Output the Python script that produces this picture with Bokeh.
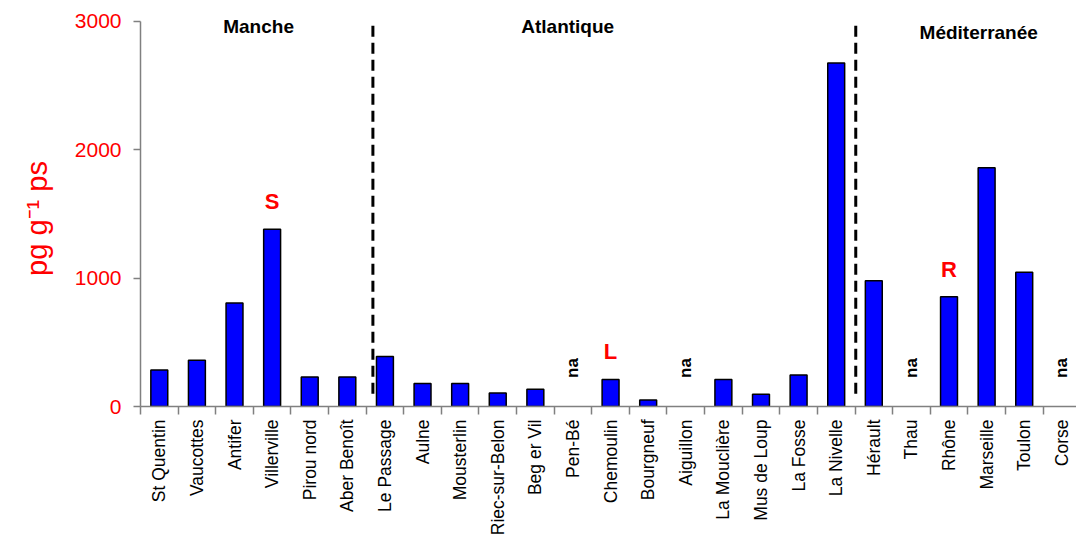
import numpy as np
from bokeh.plotting import figure
from bokeh.layouts import row
from bokeh.models import Range1d, FixedTicker, Label, ColumnDataSource
from bokeh.core.properties import value
from bokeh.embed import file_html
from bokeh.resources import INLINE

# Sites along the French coast, west-to-east by sea
sites = ["St Quentin", "Vaucottes", "Antifer", "Villerville", "Pirou nord",
         "Aber Benoît", "Le Passage", "Aulne", "Mousterlin", "Riec-sur-Belon",
         "Beg er Vil", "Pen-Bé", "Chemoulin", "Bourgneuf", "Aiguillon",
         "La Mouclière", "Mus de Loup", "La Fosse", "La Nivelle", "Hérault",
         "Thau", "Rhône", "Marseille", "Toulon", "Corse"]
# Concentrations in pg/g dry weight (None = not analysed)
conc = [285, 360, 805, 1380, 230,
        230, 390, 180, 180, 105,
        135, None, 210, 50, None,
        210, 95, 245, 2675, 980,
        None, 855, 1860, 1045, None]
# Region headings
regions = ["Manche", "Atlantique", "Méditerranée"]
# Sites flagged with a letter above their bar
flag_sites = ["Villerville", "Chemoulin", "Rhône"]
flag_letters = ["S", "L", "R"]
y_ticks = [0, 1000, 2000, 3000]
y_title = "pg g⁻¹ ps"

FONT = "Liberation Sans"
n = len(sites)
centers = np.arange(n) + 0.5
idx = {s: i for i, s in enumerate(sites)}

LW, H = 60, 538
y_range = Range1d(0, 3146)

# Narrow strip carrying the vertical axis title, sharing the value range
lab = figure(width=LW, height=H, output_backend="svg", toolbar_location=None,
             x_range=Range1d(0, LW), y_range=y_range,
             x_axis_location=None, y_axis_location=None,
             min_border_left=0, min_border_right=0,
             min_border_top=2, min_border_bottom=132)
lab.outline_line_color = None
lab.grid.visible = False
lab.text(x=[36], y=[1464], text=[y_title], angle=np.pi / 2,
         text_font=value(FONT), text_font_size="29px", text_color="red",
         text_align="center", text_baseline="middle")

p = figure(width=1076 - LW, height=H, output_backend="svg", toolbar_location=None,
           x_range=Range1d(0, 24.89), y_range=y_range,
           min_border_left=140 - LW, min_border_right=0,
           min_border_top=2, min_border_bottom=132)
p.outline_line_color = None
p.grid.visible = False

# Bars
have = [i for i, v in enumerate(conc) if v is not None]
src = ColumnDataSource(dict(x=[centers[i] for i in have], top=[conc[i] for i in have]))
p.vbar(x="x", top="top", width=0.45, source=src,
       fill_color="#0000FF", line_color="black", line_width=1.5)

# "na" markers for sites without data
na_x = [centers[i] for i, v in enumerate(conc) if v is None]
p.text(x=na_x, y=[300] * len(na_x), text=["na"] * len(na_x), angle=np.pi / 2,
       text_font=value(FONT), text_font_style="bold", text_font_size="17px",
       text_align="center", text_baseline="middle", text_color="black")

# Red letter flags above their bars
flag_x = [centers[idx[s]] for s in flag_sites]
flag_y = [conc[idx[s]] + 215 for s in flag_sites]
p.text(x=flag_x, y=flag_y, text=flag_letters,
       text_font=value(FONT), text_font_style="bold", text_font_size="22px",
       text_align="center", text_baseline="middle", text_color="red")

# Dashed separators between seas
p.segment(x0=[6.18, 19.02], y0=[100, 100], x1=[6.18, 19.02], y1=[2985, 2985],
          line_color="black", line_width=3, line_dash="11 6")

# Region headings
for name, xr, yr in zip(regions, [3.14, 11.36, 22.29], [2962, 2962, 2915]):
    p.add_layout(Label(x=xr, y=yr, text=name, text_font=FONT,
                       text_font_style="bold", text_font_size="19px",
                       text_align="center", text_baseline="middle",
                       text_color="black"))

# X axis: labels at bar centres, ticks on category boundaries
xa = p.xaxis[0]
xa.ticker = FixedTicker(ticks=list(centers), minor_ticks=list(range(n + 1)))
xa.major_label_overrides = {float(c): s for c, s in zip(centers, sites)}
xa.major_label_orientation = np.pi / 2
xa.major_label_text_font = FONT
xa.major_label_text_font_size = "17.5px"
xa.major_label_text_color = "black"
xa.major_label_standoff = 5
xa.major_tick_out = 0
xa.major_tick_in = 0
xa.minor_tick_out = 8
xa.minor_tick_in = 0
xa.minor_tick_line_color = "#808080"
xa.minor_tick_line_width = 1.5
xa.axis_line_color = "#808080"
xa.axis_line_width = 1.5

# Y axis, its line stopping at the top tick
ya = p.yaxis[0]
ya.bounds = (0, 3000)
ya.ticker = FixedTicker(ticks=y_ticks, minor_ticks=[])
ya.major_label_text_font = FONT
ya.major_label_text_font_size = "21px"
ya.major_label_text_color = "red"
ya.major_label_standoff = 12
ya.major_tick_out = 7
ya.major_tick_in = 0
ya.major_tick_line_color = "#808080"
ya.major_tick_line_width = 1.5
ya.axis_line_color = "#808080"
ya.axis_line_width = 1.5

layout = row(lab, p, spacing=0)
open("out.html", "w").write(file_html(layout, INLINE))
